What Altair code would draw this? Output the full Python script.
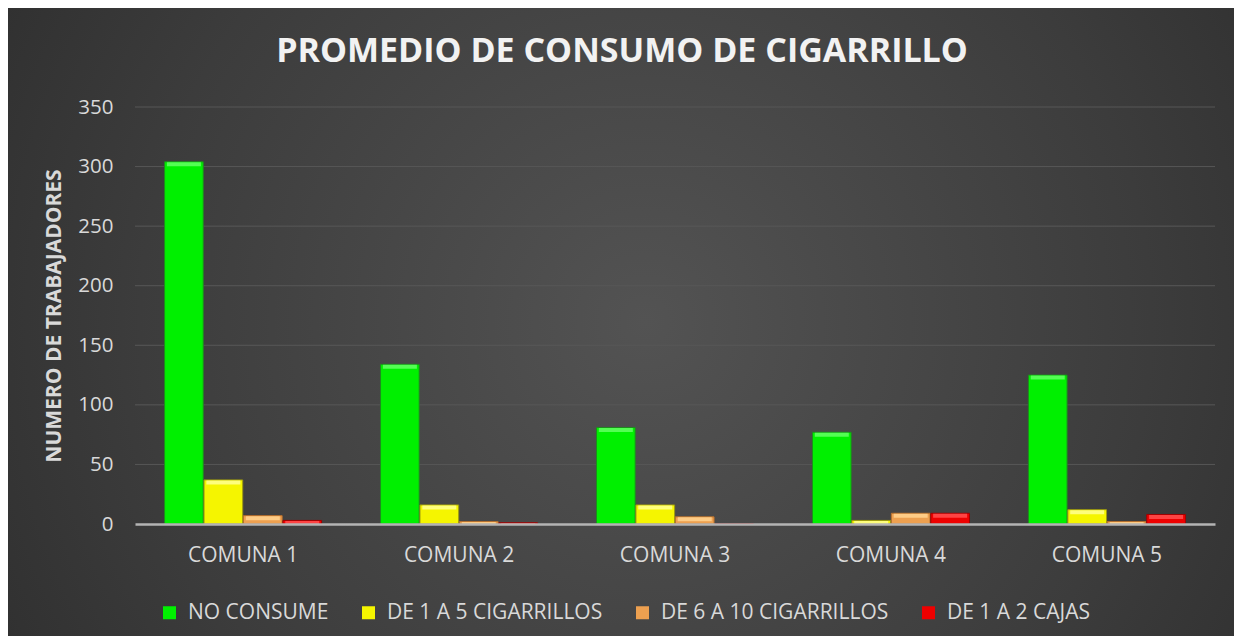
import altair as alt
import pandas as pd

categories = ["COMUNA 1", "COMUNA 2", "COMUNA 3", "COMUNA 4", "COMUNA 5"]
series = ["NO CONSUME", "DE 1 A 5 CIGARRILLOS", "DE 6 A 10 CIGARRILLOS", "DE 1 A 2 CAJAS"]
no_consume = [304, 134, 81, 77, 125]
de_1_a_5 = [37, 16, 16, 3, 12]
de_6_a_10 = [7, 2, 6, 9, 2]
de_1_a_2_cajas = [3, 1, 0, 9, 8]
y_ticks = [0, 50, 100, 150, 200, 250, 300, 350]

fills = ["#00F000", "#F5F500", "#EDA050", "#EE0000"]
strokes = ["#1E8C1E", "#9E9A10", "#B8702C", "#A00000"]
highlights = ["#5CFF5C", "#FFFF8A", "#FFD08C", "#FF4A4A"]

rows = []
for s, vals in zip(series, [no_consume, de_1_a_5, de_6_a_10, de_1_a_2_cajas]):
    for c, v in zip(categories, vals):
        rows.append({"comuna": c, "serie": s, "valor": v})
df = pd.DataFrame(rows)

grid_df = pd.DataFrame({"valor": [t for t in y_ticks if t > 0]})
bg_df = pd.DataFrame({"k": [1]})

PAD = {"left": 127, "top": 99, "right": 19, "bottom": 112}
W, H = 1080, 417
TOTAL_W = W + PAD["left"] + PAD["right"]
TOTAL_H = H + PAD["top"] + PAD["bottom"]

label_color = "#D9D9D9"
font = "Open Sans"

bg = alt.Chart(bg_df).mark_rect(
    fill=alt.RadialGradient(
        gradient="radial",
        stops=[alt.GradientStop(color="#535353", offset=0),
               alt.GradientStop(color="#3C3C3C", offset=0.55),
               alt.GradientStop(color="#262626", offset=1)],
        x1=0.52, y1=0.5, r1=0, x2=0.52, y2=0.5, r2=0.75,
    )
).encode(
    x=alt.value(-PAD["left"]), x2=alt.value(TOTAL_W - PAD["left"]),
    y=alt.value(-PAD["top"]), y2=alt.value(TOTAL_H - PAD["top"]),
)

yscale = alt.Scale(domain=[0, 350], nice=False)
yaxis = alt.Axis(values=y_ticks, grid=False, domain=False, ticks=False,
                 labelColor=label_color, labelFont=font, labelFontSize=20.5,
                 labelPadding=22,
                 title="NUMERO DE TRABAJADORES", titleColor=label_color,
                 titleFont=font, titleFontSize=21, titleFontWeight="bold",
                 titleAngle=270, titleX=-81, titleY=H / 2,
                 titleAlign="center", titleBaseline="middle", zindex=1)

xscale = alt.Scale(paddingInner=0.273, paddingOuter=0.137)
xaxis = alt.Axis(title=None, labelAngle=0, ticks=False, domain=True,
                 domainColor="#B4B4B4", domainWidth=2.5,
                 labelColor=label_color, labelFont=font, labelFontSize=21,
                 labelPadding=20, zindex=1)
xoff = alt.XOffset("serie:N", sort=series, scale=alt.Scale(paddingInner=0.02))

grid = alt.Chart(grid_df).mark_rule(color="#575757", strokeWidth=1).encode(
    y=alt.Y("valor:Q", scale=yscale, axis=yaxis)
)

bars = alt.Chart(df).mark_bar(strokeWidth=1).encode(
    x=alt.X("comuna:N", sort=categories, scale=xscale, axis=xaxis),
    xOffset=xoff,
    y=alt.Y("valor:Q", scale=yscale, axis=yaxis),
    color=alt.Color("serie:N", sort=series,
                    scale=alt.Scale(domain=series, range=fills),
                    legend=alt.Legend(orient="none", legendX=24, legendY=495,
                                      direction="horizontal", title=None,
                                      labelColor=label_color, labelFont=font,
                                      labelFontSize=21, labelLimit=400,
                                      symbolType="square",
                                      symbolSize=169, symbolStrokeWidth=0,
                                      symbolOpacity=1, columnPadding=29,
                                      labelOffset=8)),
    stroke=alt.Stroke("serie:N", sort=series,
                      scale=alt.Scale(domain=series, range=strokes), legend=None),
)

bevel = alt.Chart(df).transform_filter(alt.datum.valor > 0).mark_tick(
    orient="horizontal", thickness=4, size=34, yOffset=2.5, clip=True, opacity=0.9
).encode(
    x=alt.X("comuna:N", sort=categories, scale=xscale, axis=xaxis),
    xOffset=xoff,
    y=alt.Y("valor:Q", scale=yscale, axis=yaxis),
    fill=alt.Fill("serie:N", sort=series,
                  scale=alt.Scale(domain=series, range=highlights), legend=None),
)

chart = alt.layer(bg, grid, bars, bevel).properties(
    width=W,
    height=H,
    padding=PAD,
    autosize=alt.AutoSizeParams(type="none"),
    background="#2E2E2E",
    title=alt.Title("PROMEDIO DE CONSUMO DE CIGARRILLO", font=font, fontSize=34,
                    fontWeight="bold", color="#F2F2F2", anchor="middle",
                    frame="group", offset=-88, baseline="alphabetic", dx=-53),
).configure_view(stroke=None)

chart.save("out.html", embed_options={"renderer": "svg", "actions": False})
